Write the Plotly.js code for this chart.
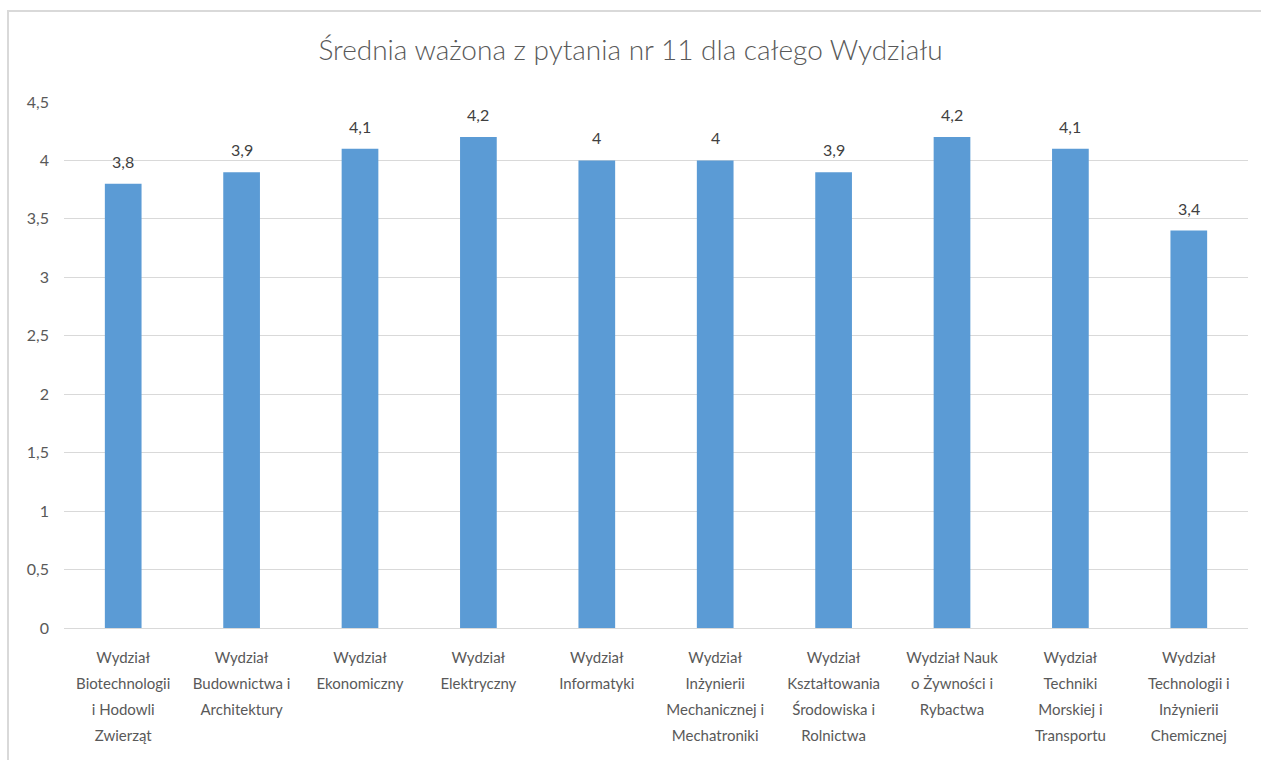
<!DOCTYPE html>
<html>
<head>
<meta charset="utf-8">
<script src="https://cdn.plot.ly/plotly-3.0.1.min.js"></script>
<style>
  html, body { margin: 0; padding: 0; background: #fff; }
  #wrap { position: relative; width: 1261px; height: 760px; overflow: hidden; }
  #chart { position: absolute; left: 0; top: 0; width: 1261px; height: 760px; }
  #frame { position: absolute; left: 7px; top: 10px; width: 1300px; height: 800px;
           border: 2px solid #d9d9d9; pointer-events: none; box-sizing: border-box; }
</style>
</head>
<body>
<div id="wrap">
  <div id="chart"></div>
  <div id="frame"></div>
</div>
<script>
const chartTitle = "Średnia ważona z pytania nr 11 dla całego Wydziału";

const categories = [
  "Wydział Biotechnologii i Hodowli Zwierząt",
  "Wydział Budownictwa i Architektury",
  "Wydział Ekonomiczny",
  "Wydział Elektryczny",
  "Wydział Informatyki",
  "Wydział Inżynierii Mechanicznej i Mechatroniki",
  "Wydział Kształtowania Środowiska i Rolnictwa",
  "Wydział Nauk o Żywności i Rybactwa",
  "Wydział Techniki Morskiej i Transportu",
  "Wydział Technologii i Inżynierii Chemicznej"
];

// tick label lines as wrapped in the original chart
const tickLines = [
  ["Wydział", "Biotechnologii", "i Hodowli", "Zwierząt"],
  ["Wydział", "Budownictwa i", "Architektury"],
  ["Wydział", "Ekonomiczny"],
  ["Wydział", "Elektryczny"],
  ["Wydział", "Informatyki"],
  ["Wydział", "Inżynierii", "Mechanicznej i", "Mechatroniki"],
  ["Wydział", "Kształtowania", "Środowiska i", "Rolnictwa"],
  ["Wydział Nauk", "o Żywności i", "Rybactwa"],
  ["Wydział", "Techniki", "Morskiej i", "Transportu"],
  ["Wydział", "Technologii i", "Inżynierii", "Chemicznej"]
];

const values = [3.8, 3.9, 4.1, 4.2, 4, 4, 3.9, 4.2, 4.1, 3.4];

const yTickValues = [0, 0.5, 1, 1.5, 2, 2.5, 3, 3.5, 4, 4.5];

const FONT = "Lato, 'Open Sans', sans-serif";

const fmt = v => String(v).replace(".", ",");

const tickText = tickLines.map(lines =>
  lines.map(l => '<span style="font-size:15px">' + l + '</span>').join("<br>")
);

const trace = {
  type: "bar",
  x: categories,
  y: values,
  marker: { color: "#5b9bd5" },
  hoverinfo: "x+y"
};

const labelAnnotations = categories.map((c, i) => ({
  x: c,
  y: values[i],
  xref: "x",
  yref: "y",
  text: fmt(values[i]),
  showarrow: false,
  xanchor: "center",
  yanchor: "bottom",
  yshift: 11,
  font: { family: FONT, size: 16, color: "#404040" }
}));

const layout = {
  width: 1261,
  height: 760,
  margin: { l: 64, r: 13, t: 102, b: 132 },
  paper_bgcolor: "#ffffff",
  plot_bgcolor: "#ffffff",
  separators: ",.",
  bargap: 0.69,
  showlegend: false,
  annotations: labelAnnotations,
  title: {
    text: chartTitle,
    font: { family: FONT, size: 28, color: "#595959", weight: 300 },
    x: 0.5, xanchor: "center",
    y: 1 - 50 / 760, yanchor: "middle", yref: "container"
  },
  xaxis: {
    type: "category",
    tickvals: categories,
    ticktext: tickText,
    tickfont: { family: FONT, size: 20, color: "#595959" },
    showgrid: false,
    showline: true,
    linecolor: "#d9d9d9",
    linewidth: 1,
    ticks: "",
    tickangle: 0,
    ticklabelstandoff: 10,
    automargin: false
  },
  yaxis: {
    range: [0, 4.5],
    tickvals: yTickValues,
    tickfont: { family: FONT, size: 16, color: "#595959" },
    showgrid: true,
    gridcolor: "#d9d9d9",
    gridwidth: 1,
    zeroline: false,
    showline: false,
    ticks: "",
    ticklabelstandoff: 14,
    automargin: false
  }
};

Plotly.newPlot("chart", [trace], layout, { displayModeBar: false, staticPlot: true });
</script>
</body>
</html>
